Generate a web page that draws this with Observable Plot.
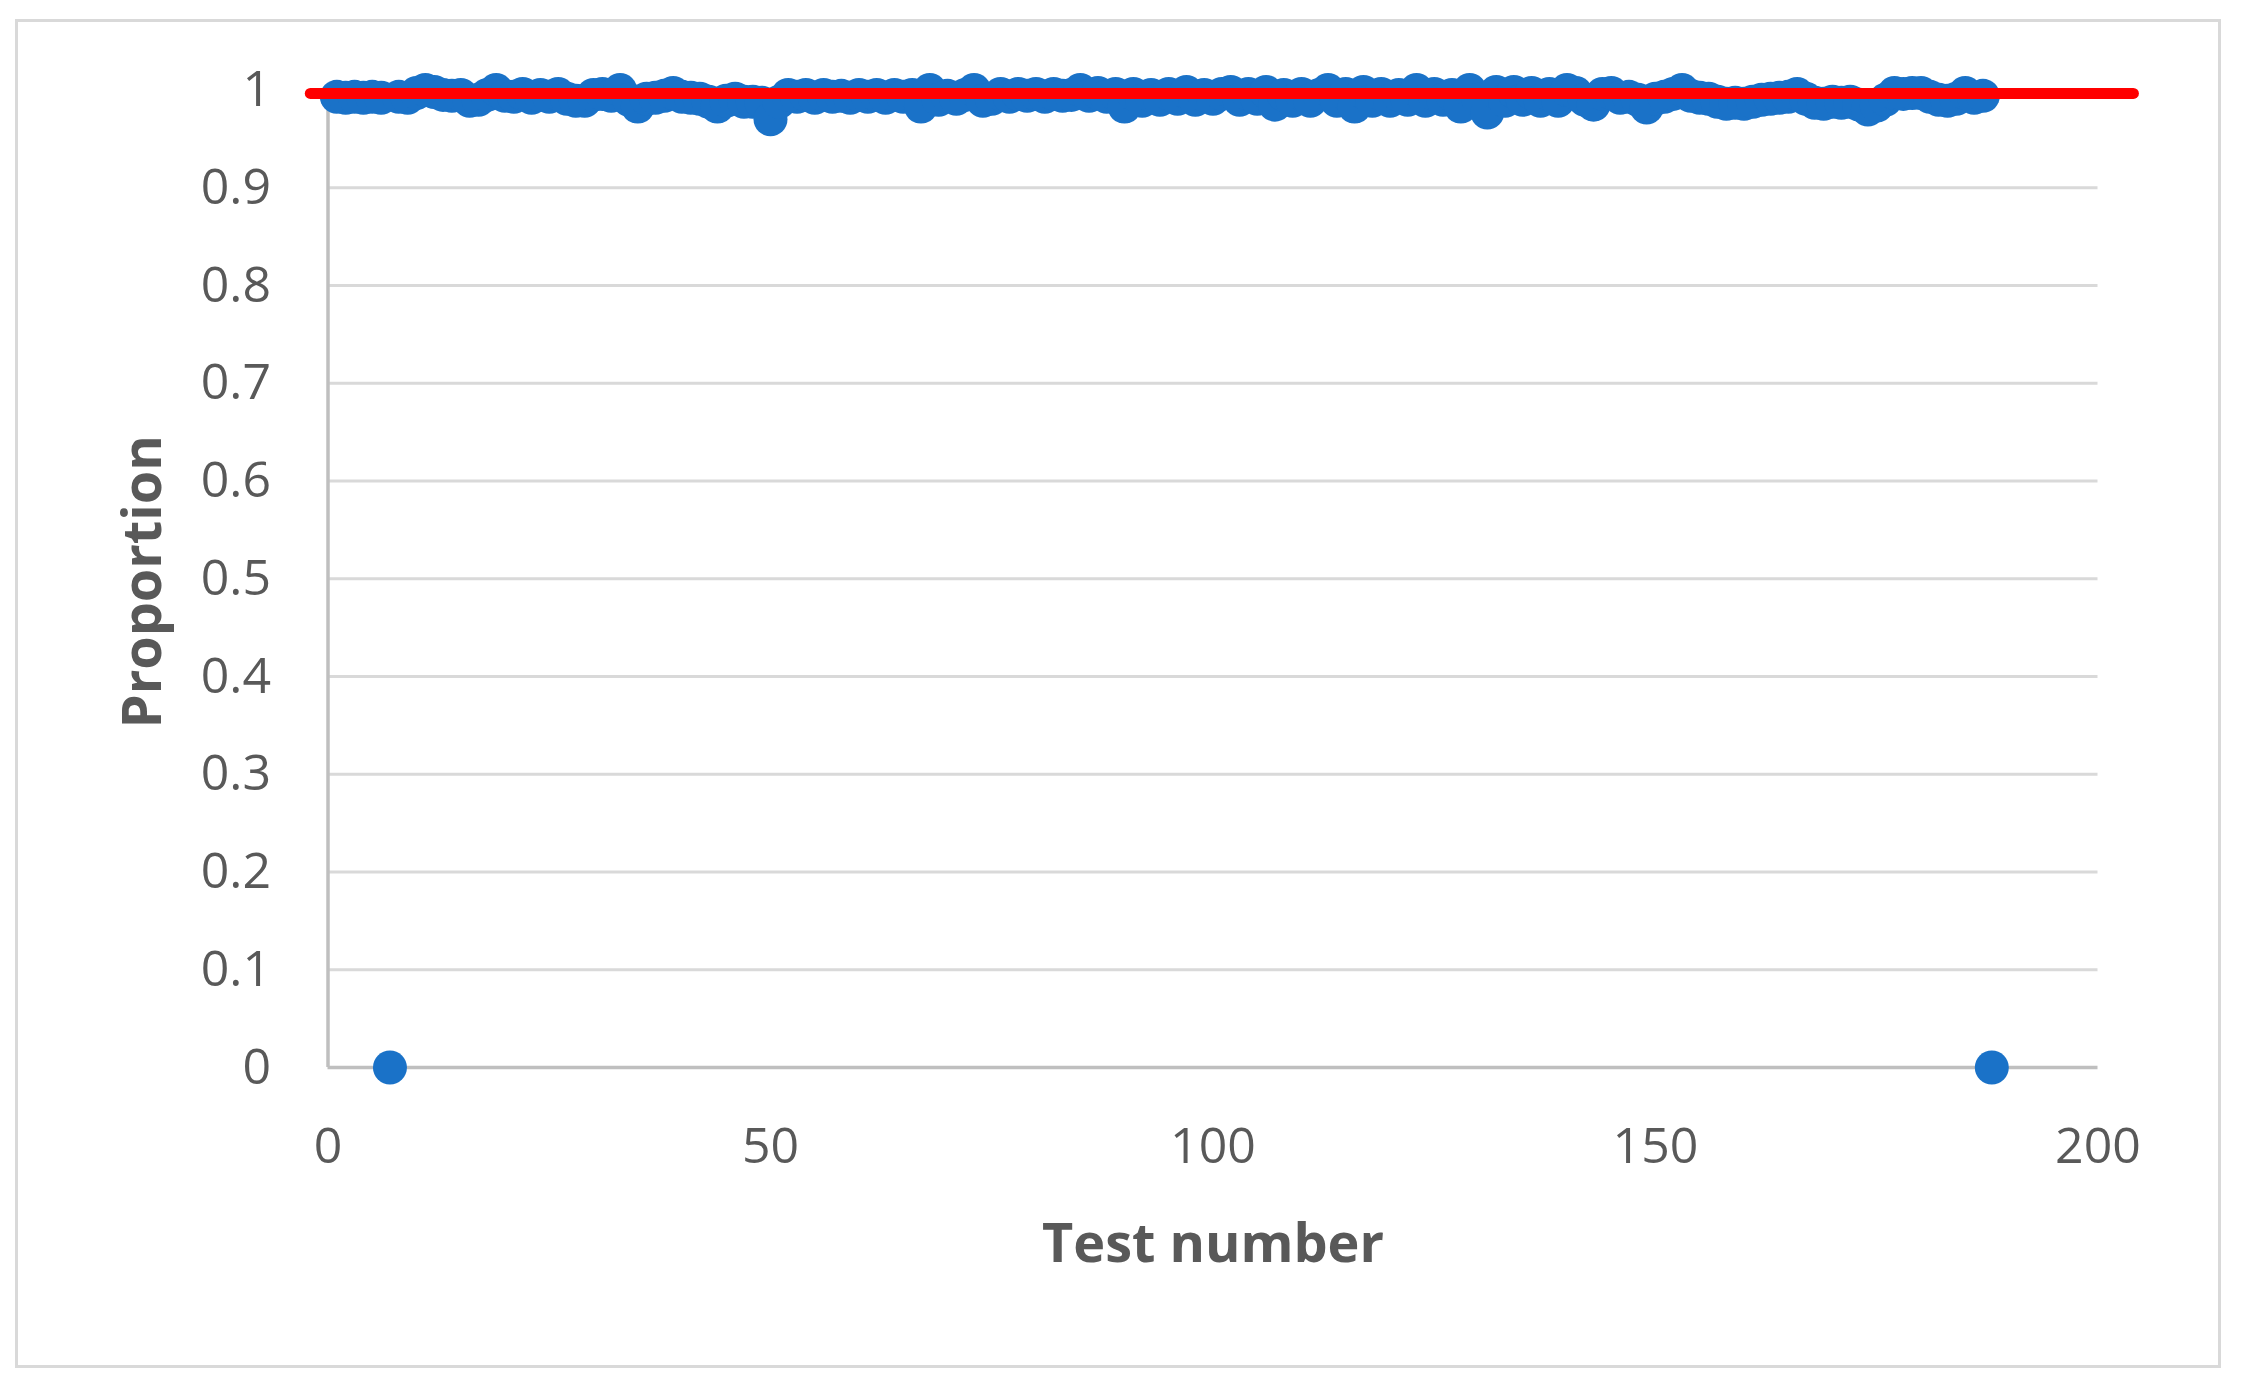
<!DOCTYPE html>
<html>
<head>
<meta charset="utf-8">
<script src="https://cdn.jsdelivr.net/npm/d3@7"></script>
<script src="https://cdn.jsdelivr.net/npm/@observablehq/plot@0.6"></script>
<style>
  html, body { margin: 0; padding: 0; background: #ffffff; }
  #wrap { position: relative; width: 2243px; height: 1391px; overflow: hidden; background: #fff; }
  #border { position: absolute; left: 15px; top: 19px; width: 2206px; height: 1349px; box-sizing: border-box; border: 3px solid #d9d9d9; }
  #chart { position: absolute; left: 0; top: 0; }
</style>
</head>
<body>
<div id="wrap"><div id="border"></div><div id="chart"></div></div>
<script>
// Proportion for each test (test number = position in list, starting at 1)
const proportion = [
  0.993, 0.992, 0.993, 0.992, 0.993, 0.992, 0.000, 0.993, 0.992, 0.997,
  1.000, 0.998, 0.995, 0.994, 0.995, 0.989, 0.990, 0.995, 1.000, 0.994,
  0.993, 0.996, 0.992, 0.995, 0.993, 0.996, 0.991, 0.989, 0.989, 0.995,
  0.996, 0.994, 1.000, 0.990, 0.983, 0.991, 0.992, 0.994, 0.997, 0.993,
  0.992, 0.991, 0.988, 0.983, 0.989, 0.991, 0.988, 0.988, 0.987, 0.970,
  0.988, 0.995, 0.993, 0.995, 0.992, 0.995, 0.993, 0.994, 0.992, 0.995,
  0.993, 0.995, 0.992, 0.995, 0.993, 0.995, 0.983, 1.000, 0.990, 0.994,
  0.991, 0.995, 1.000, 0.989, 0.991, 0.996, 0.993, 0.996, 0.994, 0.996,
  0.993, 0.996, 0.994, 0.995, 1.000, 0.994, 0.997, 0.993, 0.996, 0.983,
  0.996, 0.989, 0.995, 0.990, 0.996, 0.991, 0.998, 0.990, 0.995, 0.991,
  0.996, 0.998, 0.990, 0.996, 0.991, 0.998, 0.985, 0.995, 0.989, 0.996,
  0.989, 0.995, 1.000, 0.989, 0.996, 0.983, 0.998, 0.989, 0.996, 0.989,
  0.995, 0.990, 1.000, 0.989, 0.996, 0.990, 0.995, 0.983, 1.000, 0.990,
  0.977, 0.998, 0.989, 0.998, 0.990, 0.997, 0.989, 0.996, 0.989, 1.000,
  0.997, 0.990, 0.985, 0.996, 0.997, 0.992, 0.993, 0.990, 0.982, 0.991,
  0.993, 0.996, 1.000, 0.994, 0.992, 0.991, 0.988, 0.986, 0.987, 0.986,
  0.988, 0.990, 0.991, 0.992, 0.993, 0.996, 0.991, 0.987, 0.986, 0.988,
  0.987, 0.988, 0.985, 0.980, 0.984, 0.990, 0.997, 0.996, 0.997, 0.997,
  0.993, 0.990, 0.989, 0.991, 0.997, 0.992, 0.994, 0.000
];

// Red reference line
const refLineX = [-2, 204];
const refLineY = 0.9965;

// Axis ticks
const yTicks = [0, 0.1, 0.2, 0.3, 0.4, 0.5, 0.6, 0.7, 0.8, 0.9, 1];
const xTicks = [0, 50, 100, 150, 200];

const xTitle = "Test number";
const yTitle = "Proportion";

const points = proportion.map((p, i) => ({test: i + 1, proportion: p}));
const refLine = refLineX.map(x => ({x, y: refLineY}));

const fmt = d3.format("~g");

const chart = Plot.plot({
  width: 2243,
  height: 1391,
  marginLeft: 327.5,
  marginRight: 145.5,
  marginTop: 89.5,
  marginBottom: 324,
  style: {
    fontFamily: "'Open Sans', 'Noto Sans', sans-serif",
    fontSize: "50px",
    color: "#595959",
    background: "transparent",
    overflow: "visible"
  },
  x: {domain: [0, 200]},
  y: {domain: [0, 1]},
  marks: [
    Plot.gridY(yTicks.filter(t => t > 0), {stroke: "#d9d9d9", strokeOpacity: 1, strokeWidth: 3}),
    Plot.ruleX([0], {y1: 0, y2: 1, stroke: "#bfbfbf", strokeWidth: 3.5}),
    Plot.ruleY([0], {x1: 0, x2: 200, stroke: "#bfbfbf", strokeWidth: 3.5}),
    Plot.axisY(yTicks, {tickSize: 0, tickPadding: 57, tickFormat: fmt, label: null, fill: "#595959", fontSize: 50}),
    Plot.axisX(xTicks, {tickSize: 0, tickPadding: 60, tickFormat: fmt, label: null, fill: "#595959", fontSize: 50}),
    Plot.dot(points, {x: "test", y: "proportion", r: 17, fill: "#1a72c8", stroke: "none"}),
    Plot.line(refLine, {x: "x", y: "y", stroke: "#ff0000", strokeWidth: 11}),
    Plot.text([yTitle], {frameAnchor: "left", dx: -184.5, dy: 3, rotate: -90, fontSize: 54, fontWeight: "bold", fill: "#595959", lineAnchor: "middle", textAnchor: "middle"}),
    Plot.text([xTitle], {frameAnchor: "bottom", dy: 177, fontSize: 54, fontWeight: "bold", fill: "#595959", lineAnchor: "middle", textAnchor: "middle"})
  ]
});

document.getElementById("chart").appendChild(chart);
</script>
</body>
</html>
